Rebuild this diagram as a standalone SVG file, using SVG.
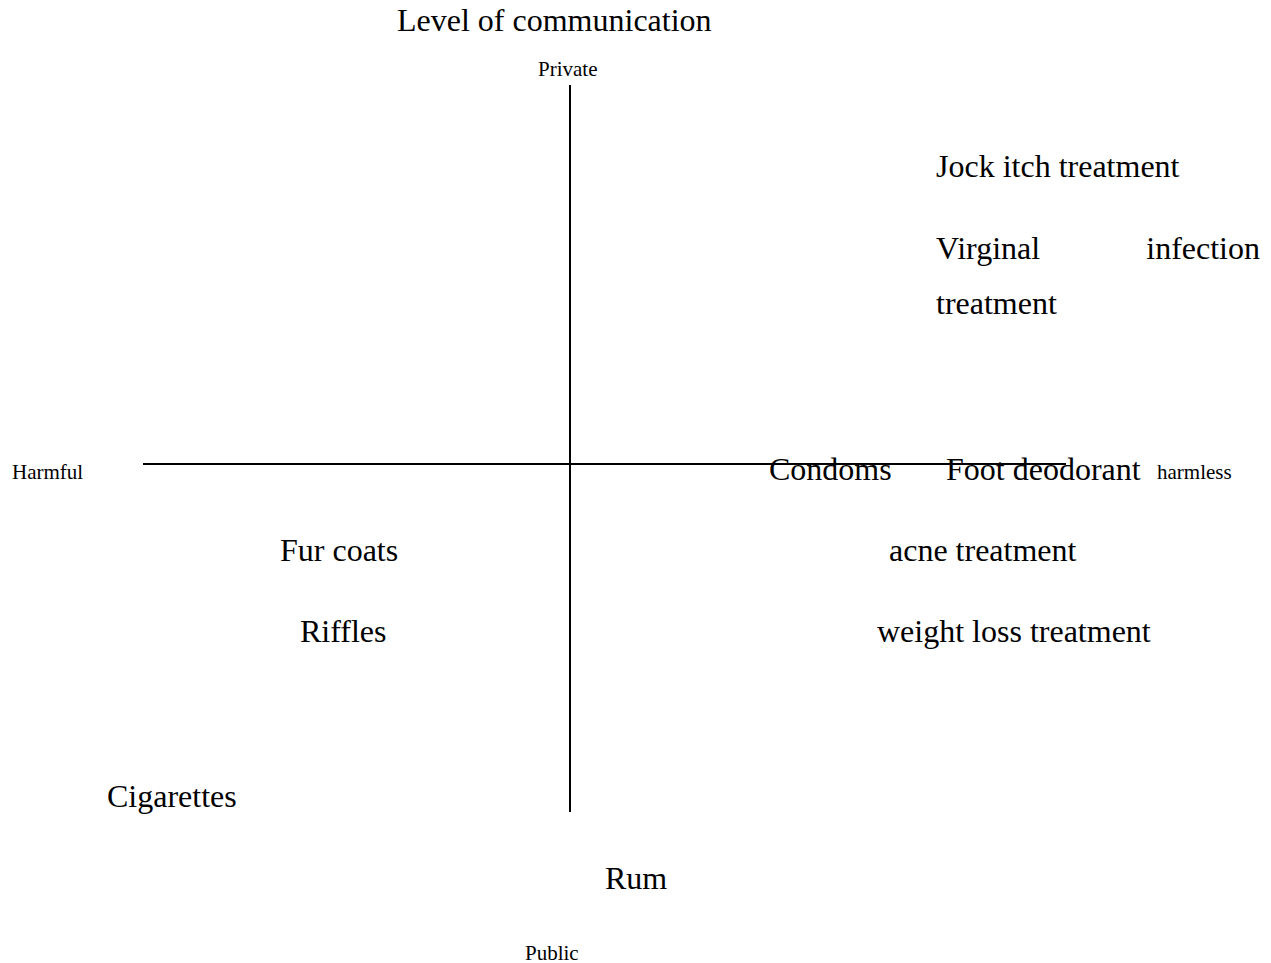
<svg xmlns="http://www.w3.org/2000/svg" width="1271" height="963" viewBox="0 0 1271 963">
<style>
text{font-family:"Liberation Serif","Times New Roman",serif;fill:#000}
.big{font-size:32px}
.small{font-size:21px}
.ax{stroke:#000;stroke-width:2;fill:none}
</style>
<rect width="1271" height="963" fill="#fff"/>
<g id="connectors">
<line class="ax" x1="570" y1="85" x2="570" y2="812"/>
<line class="ax" x1="143" y1="464" x2="1066" y2="464"/>
</g>
<g id="title"><text class="big" x="397" y="31">Level of communication</text></g>
<g id="private"><text class="small" x="538" y="76">Private</text></g>
<g id="public"><text class="small" x="525" y="960">Public</text></g>
<g id="harmful"><text class="small" x="12" y="479">Harmful</text></g>
<g id="harmless"><text class="small" x="1157" y="479">harmless</text></g>
<g id="jock"><text class="big" x="936" y="177">Jock itch treatment</text></g>
<g id="virginal"><text class="big" x="936" y="259">Virginal</text><text class="big" x="1260" y="259" text-anchor="end">infection</text><text class="big" x="936" y="314">treatment</text></g>
<g id="condoms"><text class="big" x="769" y="480">Condoms</text></g>
<g id="foot"><text class="big" x="946" y="480">Foot deodorant</text></g>
<g id="fur"><text class="big" x="280" y="561">Fur coats</text></g>
<g id="riffles"><text class="big" x="300" y="642">Riffles</text></g>
<g id="acne"><text class="big" x="889" y="561">acne treatment</text></g>
<g id="weight"><text class="big" x="877" y="642">weight loss treatment</text></g>
<g id="cigarettes"><text class="big" x="107" y="807">Cigarettes</text></g>
<g id="rum"><text class="big" x="605" y="889">Rum</text></g>
</svg>
